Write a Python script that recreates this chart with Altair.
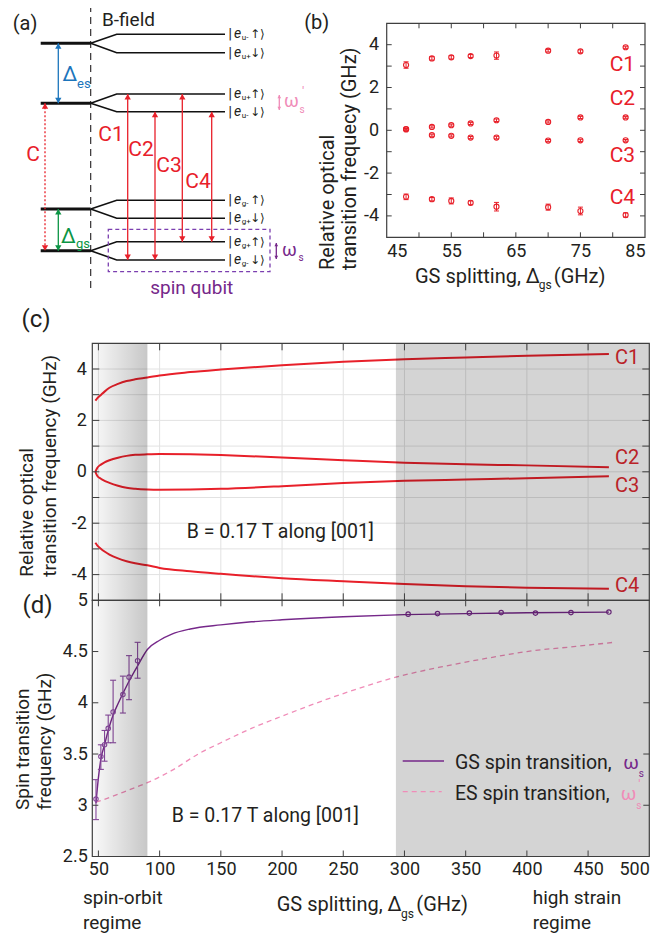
import math
import altair as alt
import pandas as pd

FONT = "Roboto"
SYM = "DejaVu Sans"
TXT = "#231f20"
RED = "#e8202a"
LABRED = "#e02a30"
PURPLE = "#76288a"
PURPLE_PT = "#8a4aa0"
PINK = "#f08cb8"
BLUE = "#1c75bc"
GREEN = "#0b9444"
FRAME = "#3f3f3f"
GRID = "#e2e2e2"
LBL = "'' + datum.value"

# ---------------- layout of the single view (pixels) ----------------
W, H = 557, 833.2
B_X0, B_X1, B_Y0, B_Y1 = 294.4, 552.7, 0.0, 214.0
C_Y0, C_Y1 = 320.0, 577.0
D_Y0, D_Y1 = 577.0, 833.2

# ---------------- panel (a): level scheme (diagram units) ----------------
lvl_y = [43.3, 103.3, 209.0, 250.7]
lvl_x = [40.7, 90.7]
split_x = [90.7, 116.7, 225.0]
sub_y = [34.3, 52.7, 94.0, 111.7, 200.3, 218.3, 241.7, 260.0]
sub_parent = [43.3, 43.3, 103.3, 103.3, 209.0, 209.0, 250.7, 250.7]
sub_orb = ["u-", "u+", "u+", "u-", "g-", "g+", "g+", "g-"]
sub_spin = ["↑⟩", "↓⟩", "↑⟩", "↓⟩", "↑⟩", "↓⟩", "↑⟩", "↓⟩"]
bfield_x = 90.7
bfield_y = [5.0, 293.0]
arr_x = [58.3, 58.3, 127.7, 155.0, 182.3, 211.7, 279.3, 276.3]
arr_top = [43.3, 209.0, 94.0, 111.7, 94.0, 111.7, 95.0, 243.0]
arr_bot = [103.3, 250.7, 260.0, 260.0, 241.7, 241.7, 110.0, 259.0]
arr_col = [BLUE, GREEN, RED, RED, RED, RED, PINK, PURPLE]
arr_head = [40, 40, 40, 40, 40, 40, 14, 14]
dot_arrow = [45.0, 103.3, 250.7]
qubit_box = [108.3, 270.0, 229.3, 271.7]
a_ctext = ["(a)", "Δ", "Δ", "C", "C1", "C2", "C3", "C4", "ω", "ω", "spin qubit"]
a_ctext_x = [25, 70, 68.5, 33, 111, 141, 169, 198, 291.5, 289.5, 191.7]
a_ctext_y = [24, 75, 236.5, 155, 135, 150, 166, 182, 102, 251, 288]
a_ctext_size = [20, 21, 21, 21, 21, 21, 21, 21, 18, 18, 19]
a_ctext_col = [TXT, BLUE, GREEN, RED, RED, RED, RED, RED, PINK, PURPLE, PURPLE]
a_ltext = ["B-field", "es", "gs", "s", "′", "s"]
a_ltext_x = [102, 77, 76, 299.5, 302, 298.5]
a_ltext_y = [20, 83.5, 244, 110, 92, 258]
a_ltext_size = [19, 13, 13, 10, 13, 10]
a_ltext_col = [TXT, BLUE, GREEN, PINK, PINK, PURPLE]
ket_x = 228.0

# ---------------- panel (b) ----------------
b_x = [48, 52, 55, 58, 62, 70, 75, 82]
b_c1 = [3.05, 3.36, 3.41, 3.47, 3.49, 3.72, 3.69, 3.88]
b_c1_err = [0.15, 0.08, 0.08, 0.07, 0.17, 0.06, 0.07, 0.05]
b_c2 = [0.06, 0.16, 0.24, 0.32, 0.47, 0.39, 0.60, 0.60]
b_c2_err = [0.04, 0.05, 0.05, 0.05, 0.06, 0.05, 0.05, 0.04]
b_c3 = [0.04, -0.23, -0.26, -0.34, -0.34, -0.48, -0.47, -0.47]
b_c3_err = [0.04, 0.05, 0.05, 0.05, 0.06, 0.05, 0.05, 0.04]
b_c4 = [-3.11, -3.22, -3.30, -3.39, -3.57, -3.59, -3.77, -3.96]
b_c4_err = [0.13, 0.08, 0.14, 0.09, 0.20, 0.14, 0.18, 0.10]
b_labels = ["C1", "C2", "C3", "C4"]
b_label_x = [81.5, 81.5, 81.5, 81.5]
b_label_y = [3.07, 1.46, -1.22, -3.16]
b_xlabels = [45, 55, 65, 75, 85]
b_ylabels = [-4, -2, 0, 2, 4]
b_xticks = [50, 55, 60, 65, 70, 75, 80]
b_yticks = [-4, -3, -2, -1, 0, 1, 2, 3, 4]

# ---------------- panel (c) ----------------
c_x = [47.5, 49, 52, 55, 59, 66, 73, 80, 90, 100, 125, 150, 200, 250, 300, 350, 400, 467]
c1 = [2.77, 2.86, 2.99, 3.12, 3.27, 3.42, 3.53, 3.60, 3.67, 3.75, 3.88, 3.98, 4.15, 4.28, 4.38, 4.45, 4.52, 4.58]
c2 = [0.00, 0.15, 0.28, 0.37, 0.45, 0.55, 0.62, 0.66, 0.68, 0.69, 0.68, 0.65, 0.56, 0.45, 0.35, 0.29, 0.25, 0.18]
c3 = [0.00, -0.15, -0.27, -0.35, -0.43, -0.54, -0.62, -0.66, -0.69, -0.70, -0.69, -0.66, -0.56, -0.44, -0.35, -0.30, -0.25, -0.17]
c4 = [-2.76, -2.86, -2.99, -3.10, -3.22, -3.37, -3.48, -3.56, -3.64, -3.74, -3.87, -3.97, -4.14, -4.26, -4.37, -4.45, -4.51, -4.55]
c_labels = ["C1", "C2", "C3", "C4"]
c_label_x = [472, 472, 472, 472]
c_label_y = [4.44, 0.54, -0.56, -4.45]
c_ylabels = [-4, -2, 0, 2, 4]
c_xticks = [50, 100, 150, 200, 250, 300, 350, 400, 450]
c_yticks = [-4, -3, -2, -1, 0, 1, 2, 3, 4]
so_regime = [45, 90]
hs_regime = [293, 500]

# ---------------- panel (d) ----------------
d_pts_x = [48, 52, 55, 58, 62, 70, 75, 82]
d_pts_y = [3.06, 3.475, 3.59, 3.75, 3.91, 4.08, 4.25, 4.41]
d_pts_lo = [2.86, 3.35, 3.43, 3.61, 3.61, 3.90, 4.03, 4.24]
d_pts_hi = [3.25, 3.59, 3.73, 3.88, 4.22, 4.26, 4.46, 4.59]
d_hs_x = [303, 327, 353, 379, 407, 436, 467]
d_hs_y = [4.865, 4.87, 4.875, 4.88, 4.875, 4.88, 4.885]
gs_x = [48, 50, 52, 55, 58, 62, 66, 70, 75, 82, 90, 100, 110, 125, 150, 175, 200, 250, 300, 350, 400, 467]
gs_y = [3.02, 3.27, 3.45, 3.59, 3.73, 3.88, 3.99, 4.09, 4.21, 4.36, 4.52, 4.61, 4.67, 4.72, 4.76, 4.79, 4.81, 4.84, 4.86, 4.87, 4.878, 4.885]
es_x = [48, 60, 75, 90, 110, 133, 150, 175, 200, 250, 293, 330, 370, 400, 440, 471]
es_y = [3.03, 3.08, 3.15, 3.22, 3.34, 3.51, 3.61, 3.75, 3.87, 4.09, 4.25, 4.35, 4.44, 4.50, 4.55, 4.59]
d_xlabels = [50, 100, 150, 200, 250, 300, 350, 400, 450, 500]
d_ylabels = [2.5, 3, 3.5, 4, 4.5, 5]
d_xticks = [50, 100, 150, 200, 250, 300, 350, 400, 450]
d_yticks = [3, 3.5, 4, 4.5]

one = pd.DataFrame({"k": [0]})


def txt(x, y, s, size=18, color=TXT, align="left", baseline="middle", angle=0, italic=False, font=FONT):
    kw = dict(align=align, baseline=baseline, fontSize=size, font=font, color=color)
    if angle:
        kw["angle"] = angle
    if italic:
        kw["fontStyle"] = "italic"
    return alt.Chart(one).mark_text(**kw).encode(x=alt.value(x), y=alt.value(y), text=alt.value(s))


def frame_and_ticks(XE, YE, xdom, ydom, xt, yt, x0, x1, y0, y1, L):
    fr = pd.DataFrame({"a": [xdom[0]], "b": [xdom[1]], "c": [ydom[0]], "d": [ydom[1]]})
    frame = alt.Chart(fr).mark_rect(fill="transparent", stroke=FRAME, strokeWidth=1.2).encode(
        x=XE("a"), x2="b", y=YE("c"), y2="d")
    dfx = pd.DataFrame({"t": xt})
    dfy = pd.DataFrame({"t": yt})
    tk = dict(color=FRAME, strokeWidth=1)
    top = alt.Chart(dfx).mark_rule(**tk).encode(x=XE("t"), y=alt.value(y0), y2=alt.value(y0 + L))
    bot = alt.Chart(dfx).mark_rule(**tk).encode(x=XE("t"), y=alt.value(y1 - L), y2=alt.value(y1))
    lef = alt.Chart(dfy).mark_rule(**tk).encode(y=YE("t"), x=alt.value(x0), x2=alt.value(x0 + L))
    rig = alt.Chart(dfy).mark_rule(**tk).encode(y=YE("t"), x=alt.value(x1 - L), x2=alt.value(x1))
    return [frame, top, bot, lef, rig]


# ======================= panel (a) =======================
xa = alt.Scale(domain=[0, 670], range=[-92.3, 577.7], nice=False, zero=False)
ya = alt.Scale(domain=[0, 935], range=[-23.3, 911.7], nice=False, zero=False)


def AX(f):
    return alt.X(f, type="quantitative", scale=xa, axis=None)


def AY(f):
    return alt.Y(f, type="quantitative", scale=ya, axis=None)


a_bline = alt.Chart(pd.DataFrame({"x": [bfield_x], "y1": [bfield_y[0]], "y2": [bfield_y[1]]})).mark_rule(
    color=TXT, strokeWidth=1.1, strokeDash=[7, 5]).encode(x=AX("x"), y=AY("y1"), y2="y2")
a_lvl = alt.Chart(pd.DataFrame({"y": lvl_y, "x1": lvl_x[0], "x2": lvl_x[1]})).mark_rule(
    color="#111111", strokeWidth=3).encode(x=AX("x1"), x2="x2", y=AY("y"))
rows = []
for i, (yy, py) in enumerate(zip(sub_y, sub_parent)):
    for k, xx in enumerate(split_x):
        rows.append({"id": i, "k": k, "x": xx, "y": py if k == 0 else yy})
a_split = alt.Chart(pd.DataFrame(rows)).mark_line(color="#111111", strokeWidth=1.6).encode(
    x=AX("x"), y=AY("y"), detail="id:N", order="k:Q")
df_arr = pd.DataFrame({"x": arr_x, "top": arr_top, "bot": arr_bot, "col": arr_col})
a_shaft = alt.Chart(df_arr).mark_rule(strokeWidth=1.3).encode(
    x=AX("x"), y=AY("top"), y2="bot", color=alt.Color("col:N", scale=None))
a_dot = alt.Chart(pd.DataFrame({"x": [dot_arrow[0]], "top": [dot_arrow[1]], "bot": [dot_arrow[2]]})).mark_rule(
    strokeWidth=1.3, color=RED, strokeDash=[2, 2]).encode(x=AX("x"), y=AY("top"), y2="bot")
hrows = []
for x, t, b, c, s in list(zip(arr_x, arr_top, arr_bot, arr_col, arr_head)) + [
        (dot_arrow[0], dot_arrow[1], dot_arrow[2], RED, 40)]:
    h = math.sqrt(3) / 4 * math.sqrt(s)
    hrows.append({"x": x, "y": t + h, "col": c, "size": s, "shape": "triangle-up"})
    hrows.append({"x": x, "y": b - h, "col": c, "size": s, "shape": "triangle-down"})
a_heads = alt.Chart(pd.DataFrame(hrows)).mark_point(filled=True, opacity=1, strokeWidth=0).encode(
    x=AX("x"), y=AY("y"), color=alt.Color("col:N", scale=None),
    size=alt.Size("size:Q", scale=None), shape=alt.Shape("shape:N", scale=None))
a_box = alt.Chart(pd.DataFrame({"x1": [qubit_box[0]], "x2": [qubit_box[1]], "y1": [qubit_box[2]], "y2": [qubit_box[3]]})).mark_rect(
    fill="transparent", stroke="#7b3fb0", strokeWidth=1.3, strokeDash=[4, 3]).encode(
    x=AX("x1"), x2="x2", y=AY("y1"), y2="y2")
df_ct = pd.DataFrame({"x": a_ctext_x, "y": a_ctext_y, "t": a_ctext, "s": a_ctext_size, "c": a_ctext_col})
a_ct = alt.Chart(df_ct).mark_text(font=FONT, align="center", baseline="middle").encode(
    x=AX("x"), y=AY("y"), text="t:N", size=alt.Size("s:Q", scale=None), color=alt.Color("c:N", scale=None))
df_lt = pd.DataFrame({"x": a_ltext_x, "y": a_ltext_y, "t": a_ltext, "s": a_ltext_size, "c": a_ltext_col})
a_lt = alt.Chart(df_lt).mark_text(font=FONT, align="left", baseline="middle").encode(
    x=AX("x"), y=AY("y"), text="t:N", size=alt.Size("s:Q", scale=None), color=alt.Color("c:N", scale=None))
df_ket = pd.DataFrame({"x": ket_x, "y": sub_y, "orb": sub_orb, "spin": sub_spin})
kb = dict(align="left", baseline="middle", color=TXT)
a_k1 = alt.Chart(df_ket).mark_text(text="|", fontSize=13, font=SYM, **kb).encode(x=AX("x"), y=AY("y"))
a_k2 = alt.Chart(df_ket).mark_text(text="e", fontSize=14, font=FONT, fontStyle="italic", dx=6, **kb).encode(x=AX("x"), y=AY("y"))
a_k3 = alt.Chart(df_ket).mark_text(fontSize=8, font=FONT, dx=13.8, dy=4, **kb).encode(x=AX("x"), y=AY("y"), text="orb:N")
a_k4 = alt.Chart(df_ket).mark_text(fontSize=12, font=SYM, dx=22, **kb).encode(x=AX("x"), y=AY("y"), text="spin:N")
panel_a = alt.layer(a_bline, a_lvl, a_split, a_box, a_dot, a_shaft, a_heads, a_ct, a_lt,
                    a_k1, a_k2, a_k3, a_k4)

# ======================= panel (b) =======================
xb = alt.Scale(domain=[45, 85], range=[B_X0, B_X1], nice=False, zero=False)
yb = alt.Scale(domain=[-5, 5], range=[B_Y1, B_Y0], nice=False, zero=False)
ax_bx = alt.Axis(orient="bottom", offset=-(H - B_Y1), values=b_xlabels, labelPadding=5, labelExpr=LBL, title=None)
ax_by = alt.Axis(orient="left", offset=-B_X0, values=b_ylabels, labelPadding=8, labelExpr=LBL, title=None)


def BX(f):
    return alt.X(f, type="quantitative", scale=xb, axis=ax_bx)


def BY(f):
    return alt.Y(f, type="quantitative", scale=yb, axis=ax_by)


rows = []
for name, ys, es in zip(b_labels, [b_c1, b_c2, b_c3, b_c4], [b_c1_err, b_c2_err, b_c3_err, b_c4_err]):
    for x, y, e in zip(b_x, ys, es):
        rows.append(dict(s=name, x=x, y=y, lo=y - e, hi=y + e))
df_b = pd.DataFrame(rows)
b_err = alt.Chart(df_b).mark_rule(color=RED, strokeWidth=1).encode(x=BX("x"), y=BY("lo"), y2="hi")
b_cap1 = alt.Chart(df_b).mark_rule(color=RED, strokeWidth=1, xOffset=-2.5, x2Offset=2.5).encode(x=BX("x"), x2="x", y=BY("lo"))
b_cap2 = alt.Chart(df_b).mark_rule(color=RED, strokeWidth=1, xOffset=-2.5, x2Offset=2.5).encode(x=BX("x"), x2="x", y=BY("hi"))
b_pts = alt.Chart(df_b).mark_point(shape="circle", filled=False, size=26, color=RED, strokeWidth=1.1, opacity=1).encode(
    x=BX("x"), y=BY("y"))
b_lab = alt.Chart(pd.DataFrame({"x": b_label_x, "y": b_label_y, "t": b_labels})).mark_text(
    font=FONT, fontSize=21, color=RED, align="center", baseline="middle").encode(x=BX("x"), y=BY("y"), text="t:N")
b_ft = frame_and_ticks(BX, BY, [45, 85], [-5, 5], b_xticks, b_yticks, B_X0, B_X1, B_Y0, B_Y1, 5)
b_titles = [
    txt(224.4, 0, "(b)", size=20, align="center"),
    txt(236.0, 246.7, "Relative optical", size=20, angle=270),
    txt(257.7, 246.7, "transition frequecy (GHz)", size=20, angle=270),
    txt(322.7, 259.7, "GS splitting, Δ", size=20, baseline="alphabetic"),
    txt(446.5, 266.0, "gs", size=12, baseline="alphabetic"),
    txt(461.5, 259.7, "(GHz)", size=20, baseline="alphabetic"),
]
panel_b = alt.layer(b_err, b_cap1, b_cap2, b_pts, b_lab, *b_ft, *b_titles)

# ======================= panel (c) =======================
xc = alt.Scale(domain=[45, 500], range=[0, W], nice=False, zero=False)
yc = alt.Scale(domain=[-5, 5], range=[C_Y1, C_Y0], nice=False, zero=False)
ax_cy = alt.Axis(orient="left", offset=0, values=c_ylabels, labelPadding=6, labelExpr=LBL, title=None)


def CX(f):
    return alt.X(f, type="quantitative", scale=xc, axis=None)


def CY(f):
    return alt.Y(f, type="quantitative", scale=yc, axis=ax_cy)


c_gx = alt.Chart(pd.DataFrame({"t": c_xticks})).mark_rule(color=GRID, strokeWidth=1).encode(
    x=CX("t"), y=alt.value(C_Y0), y2=alt.value(C_Y1))
c_gy = alt.Chart(pd.DataFrame({"t": c_yticks})).mark_rule(color=GRID, strokeWidth=1).encode(
    y=CY("t"), x=alt.value(0), x2=alt.value(W))
rows = []
for name, ys in zip(c_labels, [c1, c2, c3, c4]):
    for x, y in zip(c_x, ys):
        rows.append(dict(s=name, x=x, y=y))
c_lines = alt.Chart(pd.DataFrame(rows)).mark_line(color=RED, strokeWidth=2, interpolate="monotone").encode(
    x=CX("x"), y=CY("y"), detail="s:N")
c_lab = alt.Chart(pd.DataFrame({"x": c_label_x, "y": c_label_y, "t": c_labels})).mark_text(
    font=FONT, fontSize=20, color=LABRED, align="left", baseline="middle").encode(x=CX("x"), y=CY("y"), text="t:N")
grad = alt.LinearGradient(gradient="linear", x1=0, x2=1, y1=0, y2=0,
                          stops=[alt.GradientStop(color="rgba(0,0,0,0.02)", offset=0),
                                 alt.GradientStop(color="rgba(0,0,0,0.22)", offset=1)])
c_sh1 = alt.Chart(pd.DataFrame({"a": [so_regime[0]], "b": [so_regime[1]], "c": [-5], "d": [5]})).mark_rect(
    fill=grad).encode(x=CX("a"), x2="b", y=CY("c"), y2="d")
c_sh2 = alt.Chart(pd.DataFrame({"a": [hs_regime[0]], "b": [hs_regime[1]], "c": [-5], "d": [5]})).mark_rect(
    fill="#000000", fillOpacity=0.17).encode(x=CX("a"), x2="b", y=CY("c"), y2="d")
c_ft = frame_and_ticks(CX, CY, [45, 500], [-5, 5], c_xticks, c_yticks, 0, W, C_Y0, C_Y1, 7)
c_titles = [
    txt(94.4, 509.0, "B = 0.17 T along [001]", size=19.5),
    txt(-56.3, 296.7, "(c)", size=24, align="center"),
    txt(-65.3, 553.4, "Relative optical", size=19, angle=270),
    txt(-42.3, 553.4, "transition frequency (GHz)", size=19, angle=270),
]
panel_c = alt.layer(c_gx, c_gy, c_lines, c_lab, c_titles[0], c_sh1, c_sh2, *c_ft, *c_titles[1:])

# ======================= panel (d) =======================
xd = alt.Scale(domain=[45, 500], range=[0, W], nice=False, zero=False)
yd = alt.Scale(domain=[2.5, 5], range=[D_Y1, D_Y0], nice=False, zero=False)
ax_dx = alt.Axis(orient="bottom", offset=0, values=d_xlabels, labelPadding=4, labelExpr=LBL, title=None)
ax_dy = alt.Axis(orient="left", offset=0, values=d_ylabels, labelPadding=5, labelExpr=LBL, title=None)


def DX(f):
    return alt.X(f, type="quantitative", scale=xd, axis=ax_dx)


def DY(f):
    return alt.Y(f, type="quantitative", scale=yd, axis=ax_dy)


d_es = alt.Chart(pd.DataFrame({"x": es_x, "y": es_y})).mark_line(
    color=PINK, strokeWidth=1.3, strokeDash=[5, 4], interpolate="monotone").encode(x=DX("x"), y=DY("y"))
d_gs = alt.Chart(pd.DataFrame({"x": gs_x, "y": gs_y})).mark_line(
    color=PURPLE, strokeWidth=1.4, interpolate="monotone").encode(x=DX("x"), y=DY("y"))
df_dp = pd.DataFrame({"x": d_pts_x, "y": d_pts_y, "lo": d_pts_lo, "hi": d_pts_hi})
d_err = alt.Chart(df_dp).mark_rule(color=PURPLE_PT, strokeWidth=1.1).encode(x=DX("x"), y=DY("lo"), y2="hi")
d_cap1 = alt.Chart(df_dp).mark_rule(color=PURPLE_PT, strokeWidth=1.1, xOffset=-3, x2Offset=3).encode(x=DX("x"), x2="x", y=DY("lo"))
d_cap2 = alt.Chart(df_dp).mark_rule(color=PURPLE_PT, strokeWidth=1.1, xOffset=-3, x2Offset=3).encode(x=DX("x"), x2="x", y=DY("hi"))
d_p1 = alt.Chart(df_dp).mark_point(shape="circle", filled=False, size=20, color=PURPLE_PT, strokeWidth=1.1, opacity=1).encode(
    x=DX("x"), y=DY("y"))
d_p2 = alt.Chart(pd.DataFrame({"x": d_hs_x, "y": d_hs_y})).mark_point(
    shape="circle", filled=False, size=20, color=PURPLE, strokeWidth=1.1, opacity=1).encode(x=DX("x"), y=DY("y"))
d_sh1 = alt.Chart(pd.DataFrame({"a": [so_regime[0]], "b": [so_regime[1]], "c": [2.5], "d": [5]})).mark_rect(
    fill=grad).encode(x=DX("a"), x2="b", y=DY("c"), y2="d")
d_sh2 = alt.Chart(pd.DataFrame({"a": [hs_regime[0]], "b": [hs_regime[1]], "c": [2.5], "d": [5]})).mark_rect(
    fill="#000000", fillOpacity=0.17).encode(x=DX("a"), x2="b", y=DY("c"), y2="d")
d_ft = frame_and_ticks(DX, DY, [45, 500], [2.5, 5], d_xticks, d_yticks, 0, W, D_Y0, D_Y1, 6)
d_leg = [
    alt.Chart(one).mark_rule(color=PURPLE, strokeWidth=1.4).encode(
        x=alt.value(310.4), x2=alt.value(351.7), y=alt.value(737.7)),
    alt.Chart(one).mark_rule(color=PINK, strokeWidth=1.3, strokeDash=[5, 4]).encode(
        x=alt.value(310.4), x2=alt.value(349.4), y=alt.value(768.4)),
    txt(362.7, 739.4, "GS spin transition,", size=19.5),
    txt(531.0, 739.4, "ω", size=19, color=PURPLE),
    txt(546.5, 751.0, "s", size=10, color=PURPLE),
    txt(362.7, 770.7, "ES spin transition,", size=19.5),
    txt(528.5, 770.7, "ω", size=19, color=PINK),
    txt(544.0, 782.5, "s", size=10, color=PINK),
    txt(546.0, 761.5, "′", size=13, color=PINK),
]
d_titles = [
    txt(-54.8, 582.7, "(d)", size=24, align="center"),
    txt(-69.8, 786.7, "Spin transition", size=19, angle=270),
    txt(-47.3, 786.7, "frequency (GHz)", size=19, angle=270),
    txt(184.4, 887.7, "GS splitting, Δ", size=20, baseline="alphabetic"),
    txt(308.7, 894.7, "gs", size=12, baseline="alphabetic"),
    txt(324.0, 887.7, "(GHz)", size=20, baseline="alphabetic"),
    txt(-9.3, 874.7, "spin-orbit", size=19),
    txt(-9.3, 899.7, "regime", size=19),
    txt(440.4, 874.7, "high strain", size=19),
    txt(440.4, 899.7, "regime", size=19),
]
panel_d = alt.layer(d_es, d_gs, d_err, d_cap1, d_cap2, d_p1, d_p2,
                    txt(79.4, 792.4, "B = 0.17 T along [001]", size=19.5),
                    d_sh1, d_sh2, *d_ft, *d_leg, *d_titles)

chart = alt.layer(panel_a, panel_b, panel_c, panel_d).resolve_scale(
    x="independent", y="independent"
).properties(
    width=W, height=H,
    padding={"left": 84.3, "top": 15.3, "right": 12.7, "bottom": 78},
    autosize=alt.AutoSizeParams(type="none"),
).configure_view(stroke=None).configure_axis(
    labelFont=FONT, labelFontSize=18, labelColor=TXT, ticks=False, domain=False, grid=False
)

chart.save("out.html", embed_options={"renderer": "svg", "actions": False})
